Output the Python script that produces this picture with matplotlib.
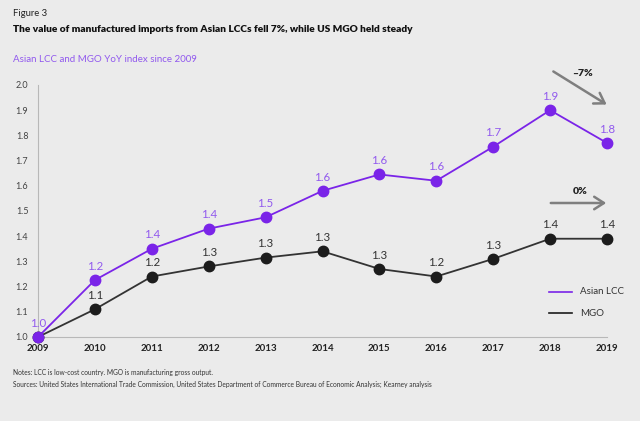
import matplotlib
matplotlib.use('Agg')
import matplotlib.pyplot as plt

# data
years = [2009, 2010, 2011, 2012, 2013, 2014, 2015, 2016, 2017, 2018, 2019]
asian_lcc = [1.0, 1.226, 1.35, 1.43, 1.475, 1.58, 1.645, 1.62, 1.755, 1.90, 1.77]
mgo = [1.0, 1.11, 1.24, 1.28, 1.315, 1.34, 1.27, 1.24, 1.31, 1.39, 1.39]
lcc_labels = ['1.0', '1.2', '1.4', '1.4', '1.5', '1.6', '1.6', '1.6', '1.7', '1.9', '1.8']
mgo_labels = ['', '1.1', '1.2', '1.3', '1.3', '1.3', '1.3', '1.2', '1.3', '1.4', '1.4']
y_ticks = [1.0, 1.1, 1.2, 1.3, 1.4, 1.5, 1.6, 1.7, 1.8, 1.9, 2.0]

bg = '#ebebeb'
purple = '#7a24e8'
purple_txt = '#9159ee'
dark = '#1c1c1c'
arrow_gray = '#7f7f7f'

plt.rcParams['font.family'] = ['Lato', 'DejaVu Sans']

W, H = 640, 421
fig = plt.figure(figsize=(6.4, 4.21), dpi=100, facecolor=bg)
ax = fig.add_axes([38 / W, 1 - 337 / H, (607 - 38) / W, (337 - 85) / H])
ax.set_facecolor(bg)

def fy(y):
  # pixel row from top -> figure fraction
  return 1 - y / H

# lines
ax.plot(years, mgo, color='#333333', lw=1.3, marker='o', ms=7.5,
        mfc=dark, mec=dark, zorder=3, clip_on=False)
ax.plot(years, asian_lcc, color=purple, lw=1.3, marker='o', ms=7.5,
        mfc=purple, mec=purple, zorder=4, clip_on=False)

# point labels
for x, y, t in zip(years, asian_lcc, lcc_labels):
  ax.annotate(t, (x, y), xytext=(0, 6), textcoords='offset points',
              ha='center', va='bottom', fontsize=8.3, color=purple_txt)
for x, y, t in zip(years, mgo, mgo_labels):
  if t:
    ax.annotate(t, (x, y), xytext=(0, 6), textcoords='offset points',
                ha='center', va='bottom', fontsize=8.3, color='#333333')

ax.set_xlim(2009, 2019)
ax.set_ylim(1.0, 2.0)
ax.set_xticks(years)
ax.set_xticklabels([str(y) for y in years], fontsize=7, fontweight='bold', color='#222222')
ax.set_yticks(y_ticks)
ax.set_yticklabels([f'{v:.1f}' for v in y_ticks], fontsize=6.5, color='#444444')
ax.tick_params(length=0, pad=7)
ax.tick_params(axis='x', pad=5)
for s in ['top', 'right']:
  ax.spines[s].set_visible(False)
ax.spines['left'].set_color('#b8b8b8')
ax.spines['bottom'].set_color('#b8b8b8')

# legend
fig.add_artist(plt.Line2D([549 / W, 572 / W], [fy(292), fy(292)], color=purple, lw=1.2))
fig.add_artist(plt.Line2D([549 / W, 572 / W], [fy(313), fy(313)], color=dark, lw=1.2))
fig.text(580 / W, fy(292), 'Asian LCC', fontsize=7, color='#333333', va='center')
fig.text(580 / W, fy(313), 'MGO', fontsize=7, color='#333333', va='center')

# change arrows
fig.add_artist(matplotlib.patches.FancyArrowPatch(
  (551 / W, fy(70)), (609 / W, fy(106)), transform=fig.transFigure,
  arrowstyle='->,head_length=7,head_width=4.5', color=arrow_gray, lw=1.8))
fig.text(582 / W, fy(74), '\u20137%', fontsize=7.5, fontweight='heavy', color='#222222',
         ha='center', va='center')
fig.add_artist(matplotlib.patches.FancyArrowPatch(
  (548 / W, fy(203)), (609 / W, fy(203)), transform=fig.transFigure,
  arrowstyle='->,head_length=7,head_width=4.5', color=arrow_gray, lw=1.8))
fig.text(580 / W, fy(192), '0%', fontsize=7.5, fontweight='heavy', color='#222222',
         ha='center', va='center')

# titles
fig.text(13 / W, fy(14), 'Figure 3', fontsize=6.8, color='#222222', va='center')
fig.text(13 / W, fy(30), 'The value of manufactured imports from Asian LCCs fell 7%, while US MGO held steady',
         fontsize=7.25, fontweight='heavy', color='#111111', va='center')
fig.text(13 / W, fy(59), 'Asian LCC and MGO YoY index since 2009', fontsize=7.0,
         color=purple_txt, va='center')

# notes
fig.text(13 / W, fy(373), 'Notes: LCC is low-cost country. MGO is manufacturing gross output.',
         fontsize=4.8, color='#333333', va='center')
fig.text(13 / W, fy(384), 'Sources: United States International Trade Commission, United States Department of Commerce '
         'Bureau of Economic Analysis; Kearney analysis', fontsize=4.8, color='#333333', va='center')

fig.savefig('out.png', dpi=100, facecolor=bg)
